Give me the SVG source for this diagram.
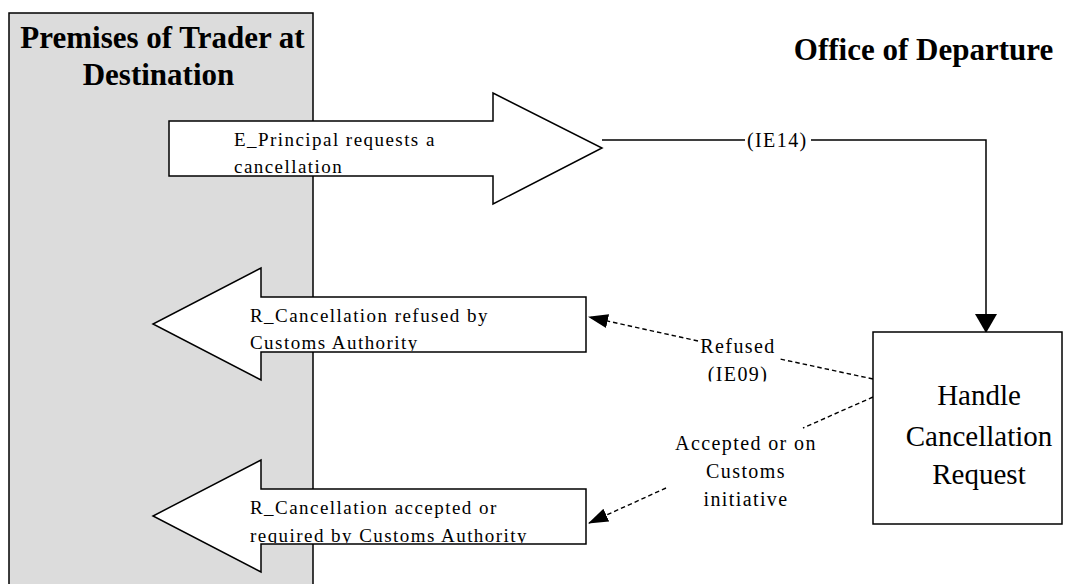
<svg xmlns="http://www.w3.org/2000/svg" width="1072" height="584" viewBox="0 0 1072 584">
<style>
.bg{fill:#ffffff}
.lane{fill:#dcdcdc;stroke:#000;stroke-width:1.5}
.shape{fill:#ffffff;stroke:#000;stroke-width:1.5;stroke-linejoin:miter}
.head{font-family:"Liberation Serif","Times New Roman",serif;font-weight:bold;font-size:31px;fill:#000}
.lbl{font-family:"Liberation Serif","Times New Roman",serif;font-size:19px;letter-spacing:1.45px;fill:#000}
.clbl{font-family:"Liberation Serif","Times New Roman",serif;font-size:20px;letter-spacing:1.4px;fill:#000}
.big{font-family:"Liberation Serif","Times New Roman",serif;font-size:29px;fill:#000}
.solid{fill:none;stroke:#000;stroke-width:1.5}
.dash{fill:none;stroke:#000;stroke-width:1.4;stroke-dasharray:4.5 3}
</style>
<defs>
<marker id="ah" markerUnits="userSpaceOnUse" viewBox="0 0 20 14" refX="19" refY="7" markerWidth="20" markerHeight="14" orient="auto">
<path d="M0,0 L20,7 L0,14 z" fill="#000"/>
</marker>
<marker id="ahs" markerUnits="userSpaceOnUse" viewBox="0 0 19 22" refX="18" refY="11" markerWidth="19" markerHeight="22" orient="auto">
<path d="M0,0 L19,11 L0,22 z" fill="#000"/>
</marker>
<clipPath id="c1"><rect x="170" y="122" width="322" height="53"/></clipPath>
<clipPath id="c2"><rect x="154" y="298" width="431" height="53"/></clipPath>
<clipPath id="c3"><rect x="154" y="490" width="431" height="53"/></clipPath>
<clipPath id="c4"><rect x="600" y="300" width="260" height="81.5"/></clipPath>
</defs>
<rect class="bg" x="0" y="0" width="1072" height="584"/>

<g id="lane-trader">
<rect class="lane" x="9" y="13" width="304" height="600"/>
<text class="head" x="162.5" y="48" text-anchor="middle">Premises of Trader at</text>
<text class="head" x="158.5" y="85" text-anchor="middle">Destination</text>
</g>

<g id="lane-office">
<text class="head" x="923.5" y="60" text-anchor="middle">Office of Departure</text>
</g>

<g id="connectors">
<path class="solid" d="M602,140 L745,140 M811,140 L986,140 L986,332" marker-end="url(#ahs)"/>
<text class="clbl" x="747" y="147">(IE14)</text>
<path class="dash" d="M873,379 L780,359 M698,341 L589,317" marker-end="url(#ah)"/>
<g clip-path="url(#c4)">
<text class="clbl" x="738" y="353" text-anchor="middle">Refused</text>
<text class="clbl" x="738" y="381" text-anchor="middle">(IE09)</text>
</g>
<path class="dash" d="M873,397 L803,428 M666,488 L589,523" marker-end="url(#ah)"/>
<text class="clbl" x="746" y="450" text-anchor="middle">Accepted or on</text>
<text class="clbl" x="746" y="478" text-anchor="middle">Customs</text>
<text class="clbl" x="746" y="506" text-anchor="middle">initiative</text>
</g>

<g id="event-request">
<polygon class="shape" points="169,121 493,121 493,93 602,148 493,204 493,176 169,176"/>
<g clip-path="url(#c1)">
<text class="lbl" x="234" y="146">E_Principal requests a</text>
<text class="lbl" x="234" y="173">cancellation</text>
</g>
</g>

<g id="result-refused">
<polygon class="shape" points="586,297 261,297 261,268 153,324 261,380 261,352 586,352"/>
<g clip-path="url(#c2)">
<text class="lbl" x="250" y="322">R_Cancellation refused by</text>
<text class="lbl" x="250" y="349">Customs Authority</text>
</g>
</g>

<g id="result-accepted">
<polygon class="shape" points="586,489 261,489 261,460 153,516 261,572 261,544 586,544"/>
<g clip-path="url(#c3)">
<text class="lbl" x="250" y="514">R_Cancellation accepted or</text>
<text class="lbl" x="250" y="542">required by Customs Authority</text>
</g>
</g>

<g id="handle-cancellation">
<rect class="shape" x="873" y="332" width="189" height="192"/>
<text class="big" x="979" y="405" text-anchor="middle">Handle</text>
<text class="big" x="979" y="446" text-anchor="middle">Cancellation</text>
<text class="big" x="979" y="484" text-anchor="middle">Request</text>
</g>
</svg>
